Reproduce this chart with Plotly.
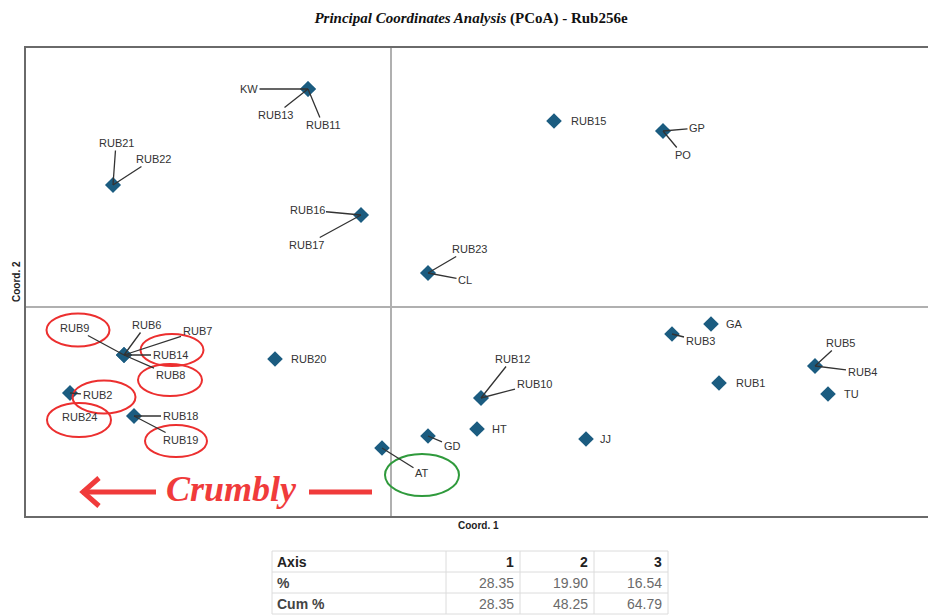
import plotly.graph_objects as go

# ---------------- data ----------------
samples = ["KW", "RUB13", "RUB11", "RUB21", "RUB22", "RUB16", "RUB17", "RUB15", "GP", "PO",
           "RUB23", "CL", "GA", "RUB3", "RUB5", "RUB4", "RUB1", "TU", "RUB12", "RUB10",
           "HT", "JJ", "GD", "AT", "RUB20", "RUB9", "RUB6", "RUB7", "RUB14", "RUB8",
           "RUB2", "RUB24", "RUB18", "RUB19"]
coord1 = [-0.083, -0.083, -0.083, -0.278, -0.278, -0.030, -0.030, 0.163, 0.272, 0.272,
          0.037, 0.037, 0.320, 0.281, 0.424, 0.424, 0.328, 0.437, 0.090, 0.090,
          0.086, 0.195, 0.037, -0.009, -0.116, -0.267, -0.267, -0.267, -0.267, -0.267,
          -0.321, -0.321, -0.257, -0.257]
coord2 = [0.218, 0.218, 0.218, 0.122, 0.122, 0.092, 0.092, 0.186, 0.176, 0.176,
          0.034, 0.034, -0.017, -0.027, -0.059, -0.059, -0.076, -0.087, -0.091, -0.091,
          -0.122, -0.132, -0.129, -0.141, -0.052, -0.048, -0.048, -0.048, -0.048, -0.048,
          -0.086, -0.086, -0.109, -0.109]

table_header = ["Axis", "1", "2", "3"]
row_labels = ["%", "Cum %"]
pct = [28.35, 19.90, 16.54]
cum_pct = [28.35, 48.25, 64.79]

# ---------------- label placement (pixel offsets) ----------------
leader = {
    "KW": (-59, 0), "RUB13": (-33, 26), "RUB11": (15, 36),
    "RUB21": (3, -42), "RUB22": (40, -26),
    "RUB16": (-54, -5), "RUB17": (-55, 30),
    "GP": (34, -3), "PO": (20, 24),
    "RUB23": (41, -24), "CL": (37, 7),
    "RUB3": (28, 7), "RUB5": (25, -23), "RUB4": (47, 6),
    "RUB12": (31, -39), "RUB10": (53, -14),
    "GD": (24, 10), "AT": (40, 25),
    "RUB9": (-50, -27), "RUB6": (22, -30), "RUB7": (73, -24),
    "RUB14": (46, 0), "RUB8": (46, 20),
    "RUB2": (27, 2), "RUB18": (46, 0), "RUB19": (46, 24),
}
plain = {"RUB15": (15, 0), "GA": (13, 0), "RUB1": (15, 0), "TU": (14, 0),
         "HT": (13, 0), "JJ": (12, 0), "RUB20": (14, 0), "RUB24": (-10, -24)}

ellipses = [("RUB9", -46, -25, 63, 33, "#ec2f2f"), ("RUB14", 48, -5, 63, 32, "#ec2f2f"),
            ("RUB8", 46, 25, 64, 32, "#ec2f2f"), ("RUB2", 34, 4, 63, 33, "#ec2f2f"),
            ("RUB24", 9, 27, 64, 34, "#ec2f2f"), ("RUB19", 42, 25, 62, 32, "#ec2f2f"),
            ("AT", 40, 27, 74, 42, "#2f9a3c")]

W, H = 928, 615
ML, MT = 26, 48
PW, PH = W - ML, H - MT
plot_bottom_px = 516


def px_x(px):
    return (px - ML) / PW


def px_y(py):
    return (H - py) / PH


idx = {s: i for i, s in enumerate(samples)}

fig = go.Figure()
fig.add_trace(go.Scatter(
    x=coord1, y=coord2, mode="markers", text=samples,
    marker=dict(symbol="diamond", size=12, color="#1b5c80"),
    hoverinfo="text", showlegend=False))

label_font = dict(family="Liberation Sans, Arial", size=11, color="#333333")
annotations = []
for s, (dx, dy) in leader.items():
    i = idx[s]
    annotations.append(dict(x=coord1[i], y=coord2[i], xref="x", yref="y", text=s,
                            showarrow=True, arrowhead=0, arrowwidth=1.3,
                            arrowcolor="#333333", ax=dx, ay=dy, font=label_font,
                            standoff=0, borderpad=1))
for s, (xs, ys) in plain.items():
    i = idx[s]
    annotations.append(dict(x=coord1[i], y=coord2[i], xref="x", yref="y", text=s,
                            showarrow=False, xanchor="left", xshift=xs, yshift=ys,
                            font=label_font))

annotations.append(dict(x=px_x(478), y=px_y(525), xref="paper", yref="paper",
                        xanchor="center", yanchor="middle",
                        text="<b>Coord. 1</b>", showarrow=False,
                        font=dict(family="Liberation Sans, Arial", size=10, color="#222")))
annotations.append(dict(x=px_x(16), y=px_y(282), xref="paper", yref="paper",
                        xanchor="center", yanchor="middle",
                        text="<b>Coord. 2</b>", showarrow=False, textangle=-90,
                        font=dict(family="Liberation Sans, Arial", size=10, color="#222")))
annotations.append(dict(x=px_x(231), y=px_y(489), xref="paper", yref="paper",
                        xanchor="center", yanchor="middle",
                        text="<b><i>Crumbly</i></b>", showarrow=False,
                        font=dict(family="Liberation Serif, Times New Roman", size=36,
                                  color="#f03b3b")))

shapes = []
for s, dx, dy, w, h, col in ellipses:
    i = idx[s]
    shapes.append(dict(type="circle", xref="x", yref="y", xsizemode="pixel",
                       ysizemode="pixel", xanchor=coord1[i], yanchor=coord2[i],
                       x0=dx - w / 2, x1=dx + w / 2, y0=-dy - h / 2, y1=-dy + h / 2,
                       line=dict(color=col, width=2)))
red = "#f03b3b"
ay_ = px_y(492)
shapes.append(dict(type="line", xref="paper", yref="paper", x0=px_x(82), x1=px_x(156),
                   y0=ay_, y1=ay_, line=dict(color=red, width=5)))
shapes.append(dict(type="path", xref="paper", yref="paper",
                   path=f"M {px_x(99)},{px_y(478)} L {px_x(83)},{ay_} L {px_x(99)},{px_y(506)}",
                   line=dict(color=red, width=5)))
shapes.append(dict(type="line", xref="paper", yref="paper", x0=px_x(309), x1=px_x(372),
                   y0=ay_, y1=ay_, line=dict(color=red, width=5)))

# ---------------- table drawn with lines + text ----------------
col_edges = [272, 446, 520, 594, 668]
row_edges = [551, 572, 593, 614]
grid = "#dcdcdc"
for cx in col_edges:
    shapes.append(dict(type="line", xref="paper", yref="paper", x0=px_x(cx), x1=px_x(cx),
                       y0=px_y(row_edges[0]), y1=px_y(row_edges[-1]),
                       line=dict(color=grid, width=1)))
for ry in row_edges:
    shapes.append(dict(type="line", xref="paper", yref="paper", x0=px_x(col_edges[0]),
                       x1=px_x(col_edges[-1]), y0=px_y(ry), y1=px_y(ry),
                       line=dict(color=grid, width=1)))

tfont_dark = dict(family="Liberation Sans, Arial", size=14, color="#222")
tfont_val = dict(family="Liberation Sans, Arial", size=14, color="#6a6a6a")
rows = [[f"<b>{h}</b>" for h in table_header],
        [f"<b>{row_labels[0]}</b>"] + [f"{v:.2f}" for v in pct],
        [f"<b>{row_labels[1]}</b>"] + [f"{v:.2f}" for v in cum_pct]]
for r, row in enumerate(rows):
    yc = px_y((row_edges[r] + row_edges[r + 1]) / 2 + 0.5)
    for c, txt in enumerate(row):
        if c == 0:
            x, xa = px_x(col_edges[0] + 3), "left"
        else:
            x, xa = px_x(col_edges[c + 1] - 4), "right"
        font = tfont_dark if (r == 0 or c == 0) else tfont_val
        if r > 0 and c == 0:
            font = dict(family="Liberation Sans, Arial", size=14, color="#444")
        annotations.append(dict(x=x, y=yc, xref="paper", yref="paper", text=txt,
                                showarrow=False, xanchor=xa, yanchor="middle", font=font))

ydom0 = px_y(plot_bottom_px)

fig.update_layout(
    width=W, height=H,
    margin=dict(l=ML, r=0, t=MT, b=0),
    paper_bgcolor="white", plot_bgcolor="white",
    title=dict(text="<b><i>Principal Coordinates Analysis</i> (PCoA) - Rub256e</b>",
               x=471 / W, y=1 - 18 / H, xref="container", yref="container",
               xanchor="center", yanchor="middle",
               font=dict(family="Liberation Serif, Times New Roman", size=15, color="#111")),
    xaxis=dict(range=[-0.365, 0.537], showgrid=False, showticklabels=False, ticks="",
               zeroline=True, zerolinecolor="#b0b0b0", zerolinewidth=2,
               showline=True, linecolor="#6a6a6a", linewidth=2, mirror=True,
               fixedrange=True),
    yaxis=dict(range=[-0.209, 0.259], domain=[ydom0, 1], showgrid=False,
               showticklabels=False, ticks="", zeroline=True, zerolinecolor="#b0b0b0",
               zerolinewidth=2, showline=True, linecolor="#6a6a6a", linewidth=2,
               fixedrange=True),
    annotations=annotations, shapes=shapes,
)

fig.write_html("out.html", config={"displayModeBar": False},
               post_script="document.body.style.margin='0';document.body.style.overflow='hidden';")
